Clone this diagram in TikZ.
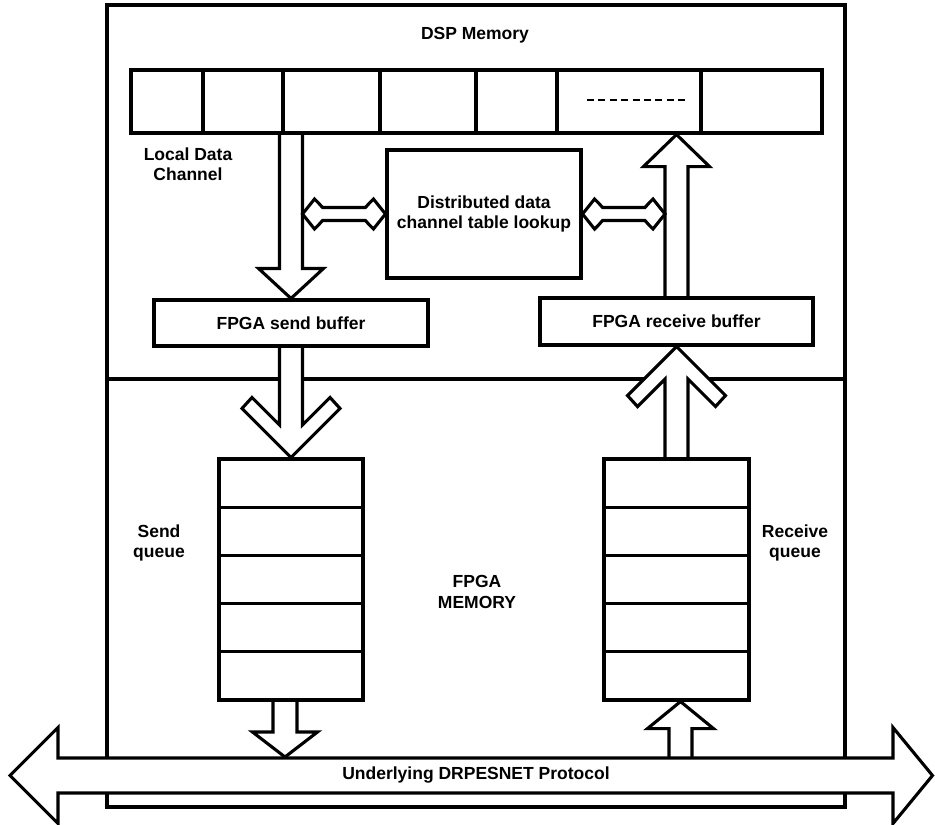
\documentclass[tikz,border=0pt]{standalone}
\usepackage{fontspec}
\setmainfont{Liberation Sans}
\usetikzlibrary{calc,backgrounds}

% Straight block arrow pointing down: start (y only), tip, half shaft, half head, head length
\newcommand\blockdown[5]{%
  \filldraw[arrowbody] let \p1=(#1), \p2=(#2) in
    (\x2-#3,\y1) -- (\x2-#3,\y2+#5) -- (\x2-#4,\y2+#5) -- (\x2,\y2)
    -- (\x2+#4,\y2+#5) -- (\x2+#3,\y2+#5) -- (\x2+#3,\y1);}
% Straight block arrow pointing up
\newcommand\blockup[5]{%
  \filldraw[arrowbody] let \p1=(#1), \p2=(#2) in
    (\x2-#3,\y1) -- (\x2-#3,\y2-#5) -- (\x2-#4,\y2-#5) -- (\x2,\y2)
    -- (\x2+#4,\y2-#5) -- (\x2+#3,\y2-#5) -- (\x2+#3,\y1);}
% Block arrows with swept-back barbs (chevron heads)
\newcommand\sweptdown[2]{%
  \filldraw[arrowbody] let \p1=(#1), \p2=(#2) in
    (\x2-11.5bp,\y1) -- (\x2-11.5bp,\y2+32.5bp) -- (\x2-39bp,\y2+60bp)
    -- (\x2-49bp,\y2+49bp) -- (\x2,\y2) -- (\x2+49bp,\y2+49bp)
    -- (\x2+39bp,\y2+60bp) -- (\x2+11.5bp,\y2+32.5bp) -- (\x2+11.5bp,\y1);}
\newcommand\sweptup[2]{%
  \filldraw[arrowbody] let \p1=(#1), \p2=(#2) in
    (\x2-11.5bp,\y1) -- (\x2-11.5bp,\y2-32.5bp) -- (\x2-39bp,\y2-60bp)
    -- (\x2-49bp,\y2-49bp) -- (\x2,\y2) -- (\x2+49bp,\y2-49bp)
    -- (\x2+39bp,\y2-60bp) -- (\x2+11.5bp,\y2-32.5bp) -- (\x2+11.5bp,\y1);}
% Small horizontal double-headed arrow between two tips (y taken from the left tip)
\newcommand\dblh[2]{%
  \filldraw[arrowbody] let \p1=(#1), \p2=(#2) in
    (\x1,\y1) -- (\x1+12bp,\y1+15bp) -- (\x1+16bp,\y1+11bp) -- (\x1+20bp,\y1+6.5bp)
    -- (\x2-20bp,\y1+6.5bp) -- (\x2-16bp,\y1+11bp) -- (\x2-12bp,\y1+15bp) -- (\x2,\y1)
    -- (\x2-12bp,\y1-15bp) -- (\x2-16bp,\y1-11bp) -- (\x2-20bp,\y1-6.5bp)
    -- (\x1+20bp,\y1-6.5bp) -- (\x1+16bp,\y1-11bp) -- (\x1+12bp,\y1-15bp) -- cycle;}

\begin{document}
\begin{tikzpicture}[x=1bp,y=-1bp,line width=3.1bp,
  txt/.style={font=\bfseries\fontsize{17.5bp}{20.5bp}\selectfont,align=center,inner sep=0pt},
  box/.style={txt,draw},
  cell/.style={draw,inner sep=0pt,minimum height=63bp},
  qcell/.style={draw,inner sep=0pt,minimum height=48.2bp},
  arrowbody/.style={draw=black,fill=white,line width=3.1bp}]
\useasboundingbox (0,0) rectangle (935,825);

% Memory array cells
\node[cell,minimum width=72bp]  (m1) at (167,101.5) {};
\node[cell,minimum width=80bp]  (m2) at (243,101.5) {};
\node[cell,minimum width=97bp]  (m3) at (331.5,101.5) {};
\node[cell,minimum width=96bp]  (m4) at (428,101.5) {};
\node[cell,minimum width=81bp]  (m5) at (516.5,101.5) {};
\node[cell,minimum width=144bp] (m6) at (629,101.5) {};
\node[cell,minimum width=121bp] (m7) at (761.5,101.5) {};

% Buffers and lookup table
\node[box,minimum width=194bp,minimum height=128bp] (lookup) at (484,214) {Distributed data\\channel table lookup};
\node[box,minimum width=274bp,minimum height=46bp] (sendbuf) at (291,323) {FPGA send buffer};
\node[box,minimum width=273bp,minimum height=47bp] (recvbuf) at (676.5,321.5) {FPGA receive buffer};

% Queues
\foreach \i/\yy in {1/483.1,2/531.3,3/579.5,4/627.7,5/675.9}{
  \node[qcell,minimum width=144bp] (s\i) at (291,\yy) {};
  \node[qcell,minimum width=145bp] (r\i) at (676.5,\yy) {};
}

% Placeholder dashes in the memory row
\draw[line width=2.6bp,dash pattern=on 7bp off 4.4bp] ($(m6.center)+(-42,-1.5)$) -- ($(m6.center)+(58,-1.5)$);

% Labels
\node[txt] (dsp) at (475,35) {DSP Memory};
\node[txt] (ldc) at (188,164) {Local Data\\Channel};
\node[txt] (sq) at (159,543) {Send\\queue};
\node[txt] (fm) at (477,592) {FPGA\\MEMORY};
\node[txt] (rq) at (795,543) {Receive\\queue};

% Shaft edges used by the lookup arrows, and the protocol bar
\coordinate (lshaft) at ($(sendbuf.north)+(11.5,0)$);
\coordinate (rshaft) at ($(recvbuf.north)+(-11.5,0)$);
\coordinate (barTop) at (472,758);
\coordinate (netL) at (10,775.5);
\coordinate (netR) at (932.5,775.5);

\begin{scope}[on background layer,line width=3.1bp]
  % Outer board with DSP / FPGA split
  \node[draw,line width=3.1bp,minimum width=738bp,minimum height=802bp,inner sep=0pt] (board) at (476,406) {};
  \coordinate (split) at (476,379);
  \draw[line width=3.1bp] (board.west |- split) -- (board.east |- split);

  % Arrows in the DSP part
  \blockdown{m3.south}{sendbuf.north}{11.5bp}{32.5bp}{30bp}
  \blockup{recvbuf.north}{m6.south -| recvbuf.north}{11.5bp}{33bp}{32bp}
  \dblh{lookup.west -| lshaft}{lookup.west}
  \dblh{lookup.east}{lookup.east -| rshaft}

  % Arrows between buffers and queues
  \sweptdown{sendbuf.south}{s1.north}
  \sweptup{r1.north}{recvbuf.south}

  % Arrows between queues and the protocol bar
  \blockdown{s5.south}{$(barTop -| s5.south)+(-6,-1)$}{12bp}{32.5bp}{25bp}
  \blockup{barTop}{$(r5.south)+(4,0)$}{11.5bp}{33bp}{27bp}

  % Underlying protocol double arrow
  \filldraw[arrowbody] (netL) -- (58,727.5) -- (58,758) -- (893,758) -- (893,727.5)
    -- (netR) -- (893,823.5) -- (893,793) -- (58,793) -- (58,823.5) -- cycle;
\end{scope}
\node[txt] (net) at (476,775.5) {Underlying DRPESNET Protocol};
\end{tikzpicture}
\end{document}
